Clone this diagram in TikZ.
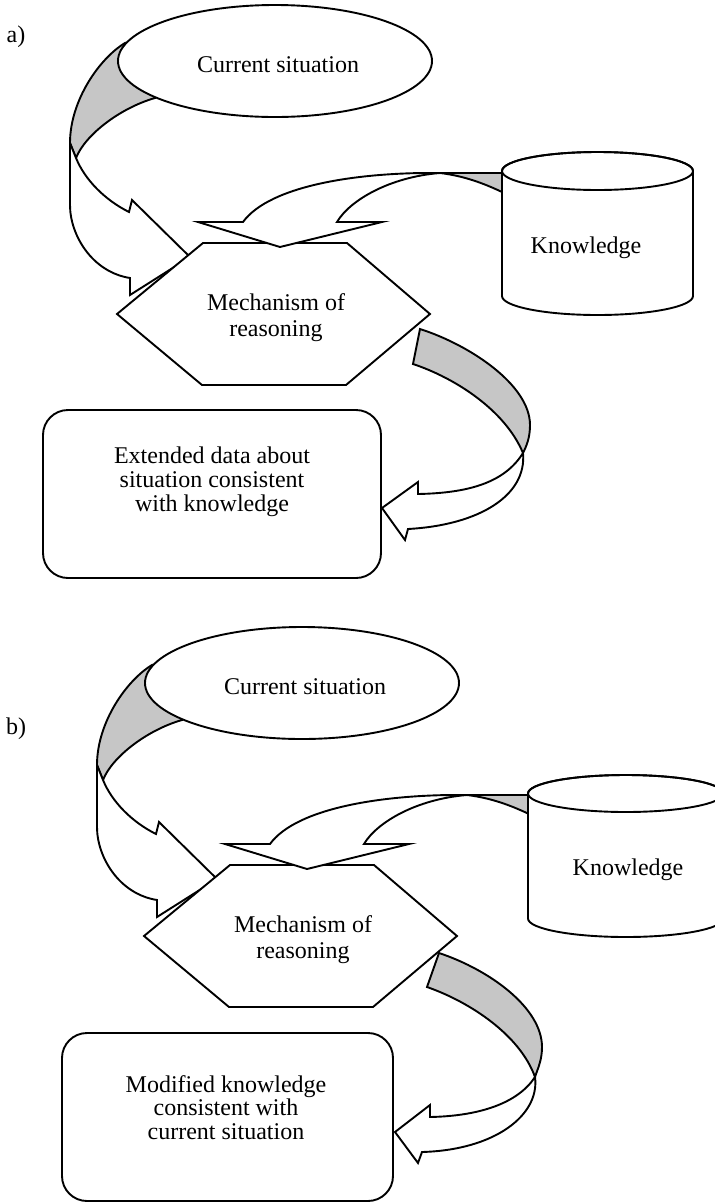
\documentclass[tikz,border=0pt]{standalone}
\usepackage{fontspec}
\setmainfont{Liberation Serif}
\usetikzlibrary{shapes.geometric}
\tikzset{
  ln/.style={draw=black, line width=1.9pt, line join=miter},
  band/.style={ln, fill=gray!45},
  body/.style={ln, fill=white},
  lbl/.style={font=\fontsize{24}{27}\selectfont, align=center, inner sep=0pt},
  csit/.style={ln, fill=white, ellipse, minimum width=314pt, minimum height=112pt, inner sep=0pt},
  boxshape/.style={ln, fill=white, rounded corners=25pt, inner sep=0pt},
}
\newcommand{\panelcore}[1]{%
  % arrow from current situation to mechanism
  \path[band] (125,43) .. controls (100,58) and (70,100) .. (70,143) -- (76,158) .. controls (85,135) and (120,108) .. (155,98) -- cycle;
  \path[body] (70,143) -- (70,205) .. controls (70,235) and (92,272) .. (130,278) -- (130,295) -- (190,257) -- (132,200) -- (129,212) .. controls (105,200) and (85,180) .. (76,158) -- cycle;
  % current situation
  \node[csit] (cs#1) at (275,61) {};
  \node[lbl] (cst#1) at (278,64.5) {Current situation};
  % mechanism hexagon
  \path[ln, fill=white] (203,243) -- (347,243) -- (430,314) -- (346,385) -- (202,385) -- (117,314) -- cycle;
  \node[lbl, font=\fontsize{24}{26.5}\selectfont] (mech#1) at (276,317.6) {Mechanism of\\reasoning};
  % arrow from knowledge to mechanism
  \path[band] (440,173) -- (502,173) -- (502,192) .. controls (485,184) and (465,176) .. (440,173) -- cycle;
  \path[body] (440,173) .. controls (360,172) and (270,185) .. (243,222) -- (198,222) -- (280,247) -- (382,222) -- (337,222) .. controls (350,200) and (390,177) .. (440,173) -- cycle;
}
\begin{document}
\begin{tikzpicture}[x=1pt,y=-1pt]
\useasboundingbox (0,0) rectangle (715,1203);

% ---------------- panel a ----------------
\node[lbl] (labA) at (16,37) {a)};
% arrow from mechanism to result
\path[band] (420,329) .. controls (470,345) and (530,385) .. (530,425) .. controls (530,437) and (527,445) .. (523,453) .. controls (505,410) and (455,378) .. (413,364) -- cycle;
\path[body] (523,453) .. controls (505,482) and (470,493) .. (418,494) -- (418,482) -- (382,508) -- (405,540) -- (408,529) .. controls (480,525) and (527,495) .. (523,453) -- cycle;
\panelcore{A}
% knowledge cylinder
\path[ln, fill=white] (502,171) -- (502,296) arc[start angle=180, end angle=0, x radius=95.5, y radius=19] -- (693,171) arc[start angle=0, end angle=-180, x radius=95.5, y radius=19] -- cycle;
\draw[ln] (597.5,171) ellipse[x radius=95.5, y radius=19];
\node[lbl] (knowA) at (586,248) {Knowledge};
% result box
\node[boxshape, minimum width=338pt, minimum height=168pt] (boxA) at (212,494) {};
\node[lbl, font=\fontsize{24}{24}\selectfont] (extA) at (212,481.4) {Extended data about\\situation consistent\\with knowledge};

% ---------------- panel b ----------------
\node[lbl] (labB) at (16,728.5) {b)};
\path[band] (439,953) .. controls (490,970) and (542,1008) .. (542,1047) .. controls (542,1060) and (538,1068) .. (535,1077) .. controls (520,1035) and (470,1002) .. (427,987) -- cycle;
\path[body] (535,1077) .. controls (518,1103) and (480,1116) .. (430,1117) -- (430,1105) -- (395,1132) -- (418,1163) -- (422,1152) .. controls (495,1150) and (540,1115) .. (535,1077) -- cycle;
\begin{scope}[shift={(27,622)}]
  \panelcore{B}
\end{scope}
\path[ln, fill=white] (528,793.5) -- (528,918.5) arc[start angle=180, end angle=0, x radius=97.7, y radius=18.5] -- (723.4,793.5) arc[start angle=0, end angle=-180, x radius=97.7, y radius=18.5] -- cycle;
\draw[ln] (625.7,793.5) ellipse[x radius=97.7, y radius=18.5];
\node[lbl] (knowB) at (628,869.4) {Knowledge};
\node[boxshape, minimum width=331pt, minimum height=168pt] (boxB) at (227.5,1117) {};
\node[lbl, font=\fontsize{24}{23.5}\selectfont] (modB) at (226,1107.6) {Modified knowledge\\consistent with\\current situation};
\end{tikzpicture}
\end{document}
